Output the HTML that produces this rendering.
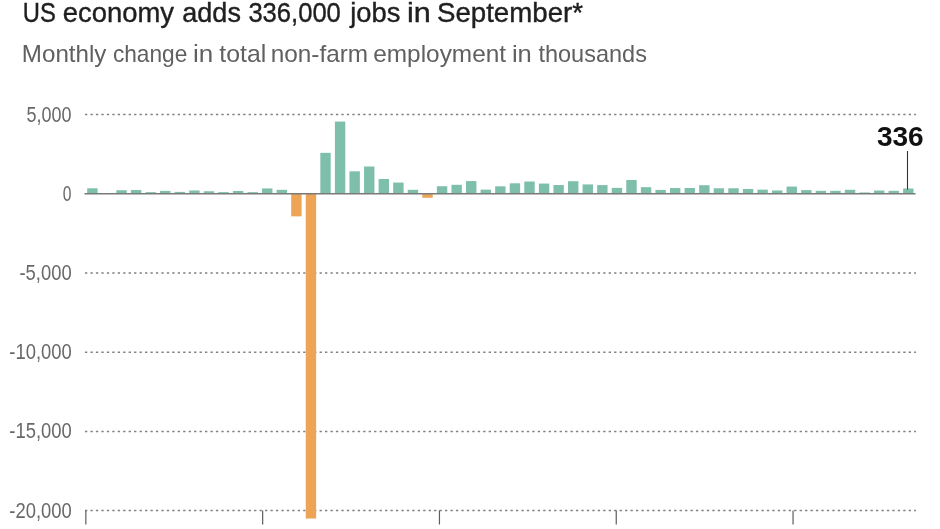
<!DOCTYPE html>
<html><head><meta charset="utf-8"><style>
html,body{margin:0;padding:0;background:#fff;width:940px;height:529px;overflow:hidden}
svg{position:absolute;left:0;top:0;filter:blur(0.45px)}
text{font-family:"Liberation Sans",sans-serif}
.g{stroke:#808080;stroke-width:1.5;stroke-dasharray:2.3 3.155}
.t{stroke:#5e5e5e;stroke-width:1.2}
</style></head><body>
<svg width="940" height="529" viewBox="0 0 940 529">
<g stroke="#1f1f1f" stroke-width="0.4"><text transform="translate(22.82,21.80) scale(0.8647,1)" font-size="27.50" font-weight="normal" fill="#1f1f1f">US</text><text transform="translate(62.66,21.80) scale(0.9984,1)" font-size="27.50" font-weight="normal" fill="#1f1f1f">economy</text><text transform="translate(182.28,21.80) scale(0.9836,1)" font-size="27.50" font-weight="normal" fill="#1f1f1f">adds</text><text transform="translate(248.38,21.80) scale(0.9310,1)" font-size="27.50" font-weight="normal" fill="#1f1f1f">336,000</text><text transform="translate(350.28,21.80) scale(0.9943,1)" font-size="27.50" font-weight="normal" fill="#1f1f1f">jobs</text><text transform="translate(406.91,21.80) scale(1.1133,1)" font-size="27.50" font-weight="normal" fill="#1f1f1f">in</text><text transform="translate(436.95,21.80) scale(1.0066,1)" font-size="27.50" font-weight="normal" fill="#1f1f1f">September*</text></g>
<text transform="translate(21.87,62.40) scale(1.0236,1)" font-size="23.60" font-weight="normal" fill="#606060">Monthly</text><text transform="translate(112.88,62.40) scale(0.9617,1)" font-size="23.60" font-weight="normal" fill="#606060">change</text><text transform="translate(193.01,62.40) scale(1.1017,1)" font-size="23.60" font-weight="normal" fill="#606060">in</text><text transform="translate(219.33,62.40) scale(1.0535,1)" font-size="23.60" font-weight="normal" fill="#606060">total</text><text transform="translate(270.72,62.40) scale(1.0314,1)" font-size="23.60" font-weight="normal" fill="#606060">non-farm</text><text transform="translate(373.20,62.40) scale(1.0344,1)" font-size="23.60" font-weight="normal" fill="#606060">employment</text><text transform="translate(511.94,62.40) scale(1.0821,1)" font-size="23.60" font-weight="normal" fill="#606060">in</text><text transform="translate(538.45,62.40) scale(0.9960,1)" font-size="23.60" font-weight="normal" fill="#606060">thousands</text>
<line x1="85" y1="114.60" x2="916" y2="114.60" class="g"/><line x1="85" y1="273.00" x2="916" y2="273.00" class="g"/><line x1="85" y1="352.20" x2="916" y2="352.20" class="g"/><line x1="85" y1="431.40" x2="916" y2="431.40" class="g"/><line x1="85" y1="510.60" x2="916" y2="510.60" class="g"/>
<rect x="87.20" y="188.30" width="10.4" height="5.50" fill="#7dbfab"/><rect x="101.77" y="193.32" width="10.4" height="0.48" fill="#7dbfab"/><rect x="116.34" y="190.22" width="10.4" height="3.58" fill="#7dbfab"/><rect x="130.91" y="189.97" width="10.4" height="3.83" fill="#7dbfab"/><rect x="145.48" y="192.14" width="10.4" height="1.66" fill="#7dbfab"/><rect x="160.05" y="190.87" width="10.4" height="2.93" fill="#7dbfab"/><rect x="174.62" y="191.90" width="10.4" height="1.90" fill="#7dbfab"/><rect x="189.19" y="190.47" width="10.4" height="3.33" fill="#7dbfab"/><rect x="203.76" y="191.25" width="10.4" height="2.55" fill="#7dbfab"/><rect x="218.33" y="192.14" width="10.4" height="1.66" fill="#7dbfab"/><rect x="232.90" y="191.00" width="10.4" height="2.80" fill="#7dbfab"/><rect x="247.47" y="192.14" width="10.4" height="1.66" fill="#7dbfab"/><rect x="262.04" y="188.43" width="10.4" height="5.37" fill="#7dbfab"/><rect x="276.61" y="189.84" width="10.4" height="3.96" fill="#7dbfab"/><rect x="291.18" y="193.80" width="10.4" height="22.56" fill="#eea455"/><rect x="305.75" y="193.80" width="10.4" height="324.72" fill="#eea455"/><rect x="320.32" y="152.84" width="10.4" height="40.96" fill="#7dbfab"/><rect x="334.89" y="121.54" width="10.4" height="72.26" fill="#7dbfab"/><rect x="349.46" y="171.32" width="10.4" height="22.48" fill="#7dbfab"/><rect x="364.03" y="166.51" width="10.4" height="27.29" fill="#7dbfab"/><rect x="378.60" y="179.02" width="10.4" height="14.78" fill="#7dbfab"/><rect x="393.17" y="182.57" width="10.4" height="11.23" fill="#7dbfab"/><rect x="407.74" y="189.79" width="10.4" height="4.01" fill="#7dbfab"/><rect x="422.31" y="193.80" width="10.4" height="4.01" fill="#eea455"/><rect x="436.88" y="186.23" width="10.4" height="7.57" fill="#7dbfab"/><rect x="451.45" y="184.80" width="10.4" height="9.00" fill="#7dbfab"/><rect x="466.02" y="181.08" width="10.4" height="12.72" fill="#7dbfab"/><rect x="480.59" y="189.65" width="10.4" height="4.15" fill="#7dbfab"/><rect x="495.16" y="186.32" width="10.4" height="7.48" fill="#7dbfab"/><rect x="509.73" y="183.31" width="10.4" height="10.49" fill="#7dbfab"/><rect x="524.30" y="181.51" width="10.4" height="12.29" fill="#7dbfab"/><rect x="538.87" y="183.57" width="10.4" height="10.23" fill="#7dbfab"/><rect x="553.44" y="185.04" width="10.4" height="8.76" fill="#7dbfab"/><rect x="568.01" y="181.21" width="10.4" height="12.59" fill="#7dbfab"/><rect x="582.58" y="184.41" width="10.4" height="9.39" fill="#7dbfab"/><rect x="597.15" y="185.10" width="10.4" height="8.70" fill="#7dbfab"/><rect x="611.72" y="187.88" width="10.4" height="5.92" fill="#7dbfab"/><rect x="626.29" y="179.97" width="10.4" height="13.83" fill="#7dbfab"/><rect x="640.86" y="187.18" width="10.4" height="6.62" fill="#7dbfab"/><rect x="655.43" y="189.92" width="10.4" height="3.88" fill="#7dbfab"/><rect x="670.00" y="188.07" width="10.4" height="5.73" fill="#7dbfab"/><rect x="684.57" y="188.00" width="10.4" height="5.80" fill="#7dbfab"/><rect x="699.14" y="185.23" width="10.4" height="8.57" fill="#7dbfab"/><rect x="713.71" y="188.27" width="10.4" height="5.53" fill="#7dbfab"/><rect x="728.28" y="188.27" width="10.4" height="5.53" fill="#7dbfab"/><rect x="742.85" y="188.97" width="10.4" height="4.83" fill="#7dbfab"/><rect x="757.42" y="189.65" width="10.4" height="4.15" fill="#7dbfab"/><rect x="771.99" y="190.47" width="10.4" height="3.33" fill="#7dbfab"/><rect x="786.56" y="186.56" width="10.4" height="7.24" fill="#7dbfab"/><rect x="801.13" y="190.08" width="10.4" height="3.72" fill="#7dbfab"/><rect x="815.70" y="190.82" width="10.4" height="2.98" fill="#7dbfab"/><rect x="830.27" y="190.82" width="10.4" height="2.98" fill="#7dbfab"/><rect x="844.84" y="189.78" width="10.4" height="4.02" fill="#7dbfab"/><rect x="859.41" y="192.45" width="10.4" height="1.35" fill="#7dbfab"/><rect x="873.98" y="190.52" width="10.4" height="3.28" fill="#7dbfab"/><rect x="888.55" y="190.82" width="10.4" height="2.98" fill="#7dbfab"/><rect x="903.12" y="188.48" width="10.4" height="5.32" fill="#7dbfab"/>
<line x1="84.5" y1="193.8" x2="915.6" y2="193.8" stroke="#7a7a7a" stroke-width="1.5"/>
<line x1="85.85" y1="510.4" x2="85.85" y2="524.5" class="t"/><line x1="262.65" y1="510.4" x2="262.65" y2="524.5" class="t"/><line x1="439.45" y1="510.4" x2="439.45" y2="524.5" class="t"/><line x1="616.25" y1="510.4" x2="616.25" y2="524.5" class="t"/><line x1="793.05" y1="510.4" x2="793.05" y2="524.5" class="t"/>
<text transform="translate(26.58,121.50) scale(0.8129,1)" font-size="22.14" font-weight="normal" fill="#686868">5,000</text><text transform="translate(19.47,279.90) scale(0.8318,1)" font-size="22.14" font-weight="normal" fill="#686868">-5,000</text><text transform="translate(9.27,359.10) scale(0.8315,1)" font-size="22.14" font-weight="normal" fill="#686868">-10,000</text><text transform="translate(9.27,438.30) scale(0.8315,1)" font-size="22.14" font-weight="normal" fill="#686868">-15,000</text><text transform="translate(9.27,517.50) scale(0.8315,1)" font-size="22.14" font-weight="normal" fill="#686868">-20,000</text><text transform="translate(62.87,200.70) scale(0.7083,1)" font-size="22.14" font-weight="normal" fill="#686868">0</text>
<line x1="907.5" y1="151" x2="907.5" y2="189.4" stroke="#333" stroke-width="1.1"/>
<text transform="translate(876.90,145.60) scale(1.0222,1)" font-size="27.43" font-weight="bold" fill="#111">336</text>
</svg>
</body></html>
